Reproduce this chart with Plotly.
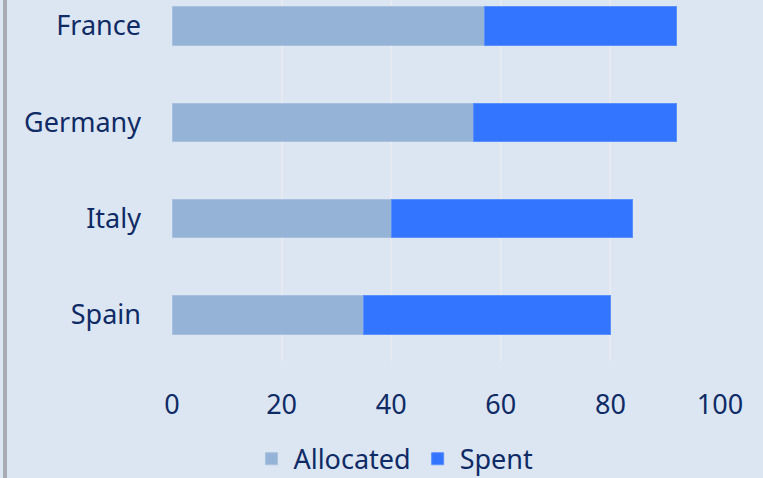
import plotly.graph_objects as go

countries = ["Spain", "Italy", "Germany", "France"]
allocated = [35, 40, 55, 57]
spent = [45, 44, 37, 35]
x_ticks = [0, 20, 40, 60, 80, 100]

FONT = "Noto Sans"
TXT = "#0f2b66"
BG = "#dce6f2"

fig = go.Figure()
fig.add_trace(go.Bar(y=countries, x=allocated, orientation="h", name="Allocated",
                     marker=dict(color="#95b3d7", line=dict(color="#a9c1df", width=1)),
                     width=0.4))
fig.add_trace(go.Bar(y=countries, x=spent, orientation="h", name="Spent",
                     marker=dict(color="#3375ff", line=dict(color="#5a8fff", width=1)),
                     width=0.4))

fig.update_layout(
    barmode="stack",
    width=763, height=478,
    paper_bgcolor=BG, plot_bgcolor=BG,
    margin=dict(l=172, r=43, t=0, b=117, autoexpand=False),
    font=dict(family=FONT, color=TXT, size=27),
    showlegend=True,
    legend=dict(orientation="h", x=0.405, xanchor="center", y=-0.272, yanchor="middle",
                font=dict(size=27, color=TXT), bgcolor="rgba(0,0,0,0)",
                traceorder="normal", itemwidth=34, tracegroupgap=0),
    xaxis=dict(range=[0, 100], tickvals=x_ticks, showgrid=True, gridcolor="#e6eaf0",
               gridwidth=1.5, zeroline=False, showline=False, ticks="",
               ticklabelstandoff=25, tickfont=dict(size=27, color=TXT), automargin=False,
               fixedrange=True),
    yaxis=dict(categoryorder="array", categoryarray=countries, range=[-0.48, 3.27],
               showgrid=False, zeroline=False, showline=False, ticks="",
               ticklabelstandoff=30, tickfont=dict(size=27, color=TXT), automargin=False,
               fixedrange=True),
    shapes=[dict(type="line", xref="paper", yref="paper",
                 x0=(5 - 172) / 548, x1=(5 - 172) / 548, y0=-1, y1=1.1,
                 line=dict(color="#a8abb0", width=4))],
)

fig.write_html("out.html", config={"displayModeBar": False},
               post_script="document.body.style.margin='0';")
